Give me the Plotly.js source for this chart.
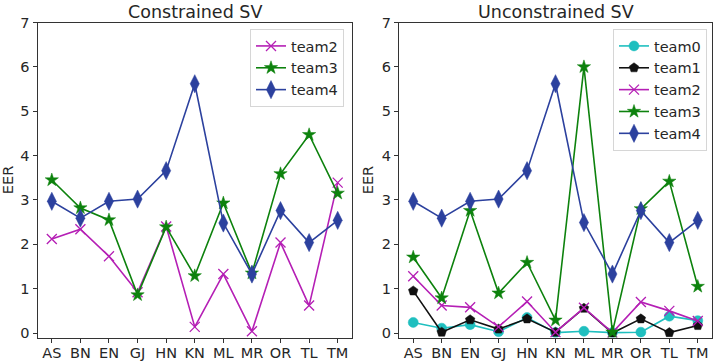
<!DOCTYPE html>
<html>
<head>
<meta charset="utf-8">
<script src="https://cdn.plot.ly/plotly-3.0.1.min.js"></script>
<style>html,body{margin:0;padding:0;background:#fff;}#chart{width:713px;height:362px;}</style>
</head>
<body>
<div id="chart"></div>
<script>
const categories = ["AS","BN","EN","GJ","HN","KN","ML","MR","OR","TL","TM"];

// Constrained SV
const conTeam2 = [2.12, 2.34, 1.73, 0.92, 2.40, 0.14, 1.33, 0.04, 2.04, 0.62, 3.39];
const conTeam3 = [3.45, 2.82, 2.55, 0.86, 2.39, 1.29, 2.93, 1.35, 3.59, 4.47, 3.15];
const conTeam4 = [2.97, 2.59, 2.97, 3.02, 3.66, 5.62, 2.48, 1.33, 2.76, 2.04, 2.54];

// Unconstrained SV
const unTeam0 = [0.24, 0.11, 0.19, 0.03, 0.35, 0.01, 0.04, 0.01, 0.02, 0.38, 0.28];
const unTeam1 = [0.95, 0.02, 0.30, 0.09, 0.32, 0.02, 0.56, 0.00, 0.32, 0.01, 0.17];
const unTeam2 = [1.28, 0.62, 0.58, 0.14, 0.71, 0.02, 0.57, 0.01, 0.70, 0.50, 0.27];
const unTeam3 = [1.71, 0.79, 2.76, 0.90, 1.59, 0.29, 6.00, 0.02, 2.80, 3.42, 1.05];
const unTeam4 = [2.97, 2.59, 2.97, 3.02, 3.66, 5.62, 2.49, 1.33, 2.76, 2.04, 2.54];

const titles = ["Constrained SV", "Unconstrained SV"];

const C = {
  team0: "#1fbfbf",
  team1: "#111111",
  team2: "#b51fb5",
  team3: "#0d820d",
  team4: "#2c419e"
};
const M = {
  team0: {symbol: "circle", size: 10},
  team1: {symbol: "pentagon", size: 10},
  team2: {symbol: "x-thin", size: 10},
  team3: {symbol: "star", size: 10},
  team4: {symbol: "diamond-tall", size: 13}
};

function tr(name, y, xa, ya, leg) {
  const m = M[name];
  return {
    type: "scatter", mode: "lines+markers", name: name,
    x: categories, y: y, xaxis: xa, yaxis: ya, legend: leg,
    line: {color: C[name], width: 1.6},
    marker: {symbol: m.symbol, size: m.size, color: C[name],
             line: {color: C[name], width: name === "team2" ? 1.3 : 0.5}}
  };
}

const data = [
  tr("team2", conTeam2, "x", "y", "legend"),
  tr("team3", conTeam3, "x", "y", "legend"),
  tr("team4", conTeam4, "x", "y", "legend"),
  tr("team0", unTeam0, "x2", "y2", "legend2"),
  tr("team1", unTeam1, "x2", "y2", "legend2"),
  tr("team2", unTeam2, "x2", "y2", "legend2"),
  tr("team3", unTeam3, "x2", "y2", "legend2"),
  tr("team4", unTeam4, "x2", "y2", "legend2")
];

const W = 713, H = 362;
const TXT = "#262626";
const FS = 14.5;

function xax(l, r, anchor) {
  return {
    domain: [l / W, r / W], anchor: anchor, type: "category",
    range: [-0.5, 10.5], showgrid: false, zeroline: false,
    showline: true, mirror: true, linecolor: "#333", linewidth: 1,
    ticks: "outside", ticklen: 4, tickcolor: "#333", tickwidth: 1,
    ticklabelstandoff: -2,
    tickfont: {family: "DejaVu Sans", size: FS, color: TXT}
  };
}
function yax(anchor) {
  return {
    domain: [(H - 337.5) / H, (H - 22.5) / H], anchor: anchor,
    range: [-0.1, 7], dtick: 1, tick0: 0, showgrid: false, zeroline: false,
    showline: true, mirror: true, linecolor: "#333", linewidth: 1,
    ticks: "outside", ticklen: 4, tickcolor: "#333", tickwidth: 1,
    tickfont: {family: "DejaVu Sans", size: FS, color: TXT},
    title: {text: "EER", font: {family: "DejaVu Sans", size: FS, color: TXT}, standoff: 4}
  };
}
function leg(xr) {
  return {
    x: xr / W, xanchor: "right", y: 1 - 29 / H, yanchor: "top",
    xref: "paper", yref: "paper",
    bgcolor: "rgba(255,255,255,0.8)", bordercolor: "#d6d6d6", borderwidth: 1,
    font: {family: "DejaVu Sans", size: FS, color: TXT},
    tracegroupgap: 0, itemwidth: 30
  };
}

const layout = {
  width: W, height: H,
  margin: {l: 0, r: 0, t: 0, b: 0},
  paper_bgcolor: "#fff", plot_bgcolor: "#fff",
  font: {family: "DejaVu Sans", size: FS, color: TXT},
  xaxis: xax(37.5, 352, "y"),
  yaxis: yax("x"),
  xaxis2: xax(399, 712, "y2"),
  yaxis2: yax("x2"),
  legend: leg(344),
  legend2: leg(707),
  annotations: [
    {text: titles[0], xref: "paper", yref: "paper", x: ((37.5 + 352) / 2) / W, y: 1 - 12 / H,
     xanchor: "center", yanchor: "middle", showarrow: false,
     font: {family: "DejaVu Sans", size: 17.5, color: TXT}},
    {text: titles[1], xref: "paper", yref: "paper", x: ((399 + 712) / 2) / W, y: 1 - 12 / H,
     xanchor: "center", yanchor: "middle", showarrow: false,
     font: {family: "DejaVu Sans", size: 17.5, color: TXT}}
  ],
  showlegend: true
};

Plotly.newPlot("chart", data, layout, {staticPlot: true, displayModeBar: false});
</script>
</body>
</html>
